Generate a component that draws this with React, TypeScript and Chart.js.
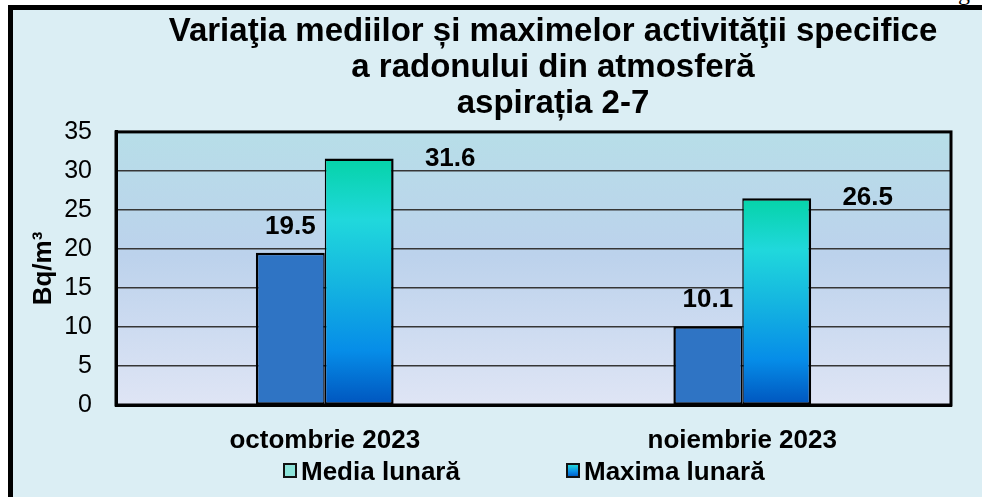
import React, { useEffect, useRef } from 'react';
import { Chart, registerables } from 'chart.js';

Chart.register(...registerables);

// ---- data ----
const categories = ['octombrie 2023', 'noiembrie 2023'];
const mediaValues = [19.5, 10.1];
const maximaValues = [31.6, 26.5];
const seriesNames = ['Media lunară', 'Maxima lunară'];
const titleLines = [
  'Variaţia mediilor și maximelor activităţii specifice',
  'a radonului din atmosferă',
  'aspirația 2-7',
];
const yAxisTitle = 'Bq/m³';
const yMin = 0;
const yMax = 35;
const yStep = 5;

const FONT = '"Liberation Sans", Arial, Helvetica, sans-serif';

function maximaFill(c: any) {
  const chart = c.chart;
  if (!chart.chartArea || c.type !== 'data') return '#15B6E0';
  const y = chart.scales.y;
  const top = y.getPixelForValue(c.raw);
  const bottom = y.getPixelForValue(0);
  const g = chart.ctx.createLinearGradient(0, top, 0, bottom);
  g.addColorStop(0, '#05D3A8');
  g.addColorStop(0.25, '#20D8DC');
  g.addColorStop(0.5, '#15B6E0');
  g.addColorStop(0.78, '#068DE8');
  g.addColorStop(1, '#0055BE');
  return g;
}

const plotDecor = {
  id: 'plotDecor',
  beforeDraw(chart: any) {
    const { ctx, chartArea: a } = chart;
    if (!a) return;
    const g = ctx.createLinearGradient(0, a.top, 0, a.bottom);
    g.addColorStop(0, '#B7DEE8');
    g.addColorStop(0.45, '#BCD2EC');
    g.addColorStop(1, '#DFE5F5');
    ctx.save();
    ctx.fillStyle = g;
    ctx.fillRect(a.left, a.top, a.right - a.left, a.bottom - a.top);
    ctx.restore();
  },
  beforeDatasetsDraw(chart: any) {
    const { ctx, chartArea: a } = chart;
    ctx.save();
    ctx.strokeStyle = '#000';
    ctx.lineWidth = 3;
    ctx.strokeRect(a.left, a.top, a.right - a.left, a.bottom - a.top);
    ctx.restore();
  },
  afterDatasetsDraw(chart: any) {
    const { ctx } = chart;
    ctx.save();
    ctx.font = `bold 26px ${FONT}`;
    ctx.fillStyle = '#000';
    ctx.textAlign = 'center';
    ctx.textBaseline = 'middle';
    chart.data.datasets.forEach((ds: any, di: number) => {
      const meta = chart.getDatasetMeta(di);
      meta.data.forEach((el: any, i: number) => {
        const txt = String(ds.data[i]);
        if (di === 0) ctx.fillText(txt, el.x, el.y - 26);
        else ctx.fillText(txt, el.x + 91, el.y);
      });
    });
    ctx.restore();
  },
};

export default function App() {
  const ref = useRef<HTMLCanvasElement | null>(null);

  useEffect(() => {
    if (!ref.current) return;
    const chart = new Chart(ref.current, {
      type: 'bar',
      data: {
        labels: categories,
        datasets: [
          {
            label: seriesNames[0],
            data: mediaValues,
            backgroundColor: '#2F74C4',
            borderColor: '#000',
            borderWidth: { top: 2.5, left: 2.5, right: 1.5, bottom: 2 } as any,
            borderSkipped: false,
            categoryPercentage: 0.33,
            barPercentage: 1.0,
          },
          {
            label: seriesNames[1],
            data: maximaValues,
            backgroundColor: maximaFill as any,
            borderColor: '#000',
            borderWidth: { top: 2.5, left: 1.5, right: 2.5, bottom: 2 } as any,
            borderSkipped: false,
            categoryPercentage: 0.33,
            barPercentage: 1.0,
          },
        ],
      },
      options: {
        responsive: false,
        animation: false,
        devicePixelRatio: 1,
        layout: { padding: 0 },
        plugins: {
          legend: { display: false },
          tooltip: { enabled: false },
          title: {
            display: true,
            text: titleLines,
            color: '#000',
            font: { family: FONT, size: 33, weight: 'bold', lineHeight: 1.09 },
            padding: { top: 4, bottom: 10 },
          },
        },
        scales: {
          x: {
            grid: { display: false, drawTicks: false },
            border: { display: true, color: '#000', width: 3 },
            ticks: {
              color: '#000',
              font: { family: FONT, size: 26, weight: 'bold' },
              padding: 20,
              maxRotation: 0,
            },
            afterFit: (s: any) => {
              s.height = 92;
            },
          },
          y: {
            min: yMin,
            max: yMax,
            grid: { color: '#363636', lineWidth: 1.5, drawTicks: false },
            border: { display: true, color: '#000', width: 3 },
            ticks: {
              stepSize: yStep,
              color: '#000',
              font: { family: FONT, size: 25 },
              padding: 24,
            },
            title: {
              display: true,
              text: yAxisTitle,
              color: '#000',
              font: { family: FONT, size: 26, weight: 'bold' },
              padding: { top: 15, bottom: 0 },
            },
            afterFit: (s: any) => {
              s.width = 103;
            },
          },
          yRight: {
            type: 'linear',
            position: 'right',
            display: true,
            grid: { display: false, drawTicks: false },
            border: { display: false },
            ticks: { display: false },
            afterFit: (s: any) => {
              s.width = 142;
            },
          },
        },
      } as any,
      plugins: [plotDecor],
    });
    return () => chart.destroy();
  }, []);

  const legendText: React.CSSProperties = {
    position: 'absolute',
    top: 456,
    fontFamily: FONT,
    fontWeight: 'bold',
    fontSize: 26,
    lineHeight: '30px',
    color: '#000',
    whiteSpace: 'nowrap',
  };
  const sq: React.CSSProperties = {
    position: 'absolute',
    top: 463,
    width: 10,
    height: 11,
    border: '2px solid #111',
  };

  return (
    <div
      style={{
        position: 'fixed',
        left: 0,
        top: 0,
        width: 982,
        height: 497,
        overflow: 'hidden',
        background: '#fff',
      }}
    >
      <div
        style={{
          position: 'absolute',
          left: 8,
          top: 5,
          width: 1200,
          height: 600,
          border: '5px solid #000',
          background: '#DBEEF4',
        }}
      />
      <span
        style={{
          position: 'absolute',
          left: 958,
          top: -20,
          fontFamily: '"Liberation Serif", "Times New Roman", serif',
          fontSize: 24,
          lineHeight: '24px',
          color: '#000',
        }}
      >
        g
      </span>
      <canvas
        ref={ref}
        width={1080}
        height={487}
        style={{ position: 'absolute', left: 13, top: 10, width: 1080, height: 487 }}
      />
      <div style={{ ...sq, left: 283, background: '#8DE3D9' }} />
      <span style={{ ...legendText, left: 301 }}>{seriesNames[0]}</span>
      <div
        style={{
          ...sq,
          left: 566,
          background: 'linear-gradient(to bottom, #22D4D8, #0A8EE6 60%, #0060C8)',
        }}
      />
      <span style={{ ...legendText, left: 584 }}>{seriesNames[1]}</span>
    </div>
  );
}
